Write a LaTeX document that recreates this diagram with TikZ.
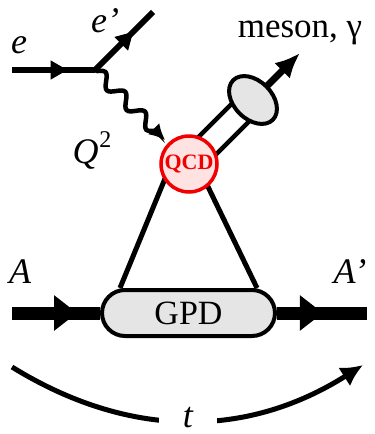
\documentclass[tikz,border=0pt]{standalone}
\usepackage{fontspec}
\setmainfont{Liberation Serif}
\usetikzlibrary{arrows.meta, positioning, shapes.geometric, shapes.misc,
                decorations.markings, decorations.pathmorphing, backgrounds, calc}
\definecolor{qcdred}{RGB}{240,0,0}
\definecolor{qcdfill}{RGB}{255,226,226}
\definecolor{blobgray}{RGB}{229,229,229}
\tikzset{
  lbl/.style     = {font=\fontsize{36}{40}\selectfont\itshape, inner sep=0pt, anchor=base},
  fermion/.style = {line width=6pt, postaction={decorate},
                    decoration={markings, mark=at position #1 with
                                {\arrow{Triangle[length=17pt,width=18pt]}}}},
  hadron/.style  = {line width=13pt, postaction={decorate},
                    decoration={markings, mark=at position #1 with
                                {\arrow{Triangle[length=23pt,width=34pt]}}}},
  photon/.style  = {line width=4.5pt, decorate,
                    decoration={snake, amplitude=6pt, segment length=28pt, post length=14pt},
                    -{Latex[length=16pt,width=16pt]}},
  qcdblob/.style = {circle, draw=qcdred, line width=3.5pt, fill=qcdfill, minimum size=56pt,
                    inner sep=0pt, text=qcdred, font=\fontsize{22}{22}\selectfont\bfseries},
  gpdbox/.style  = {rounded rectangle, draw, line width=4pt, fill=blobgray, minimum width=173pt,
                    minimum height=46pt, inner sep=0pt, font=\fontsize{34}{34}\selectfont},
  mesblob/.style = {ellipse, draw, line width=4pt, fill=blobgray, minimum width=38pt,
                    minimum height=56pt, inner sep=0pt, rotate=45},
}

\begin{document}
\begin{tikzpicture}[x=1pt, y=-1pt]
  \useasboundingbox (0,0) rectangle (375,434);

  % blobs
  \node[qcdblob] (qcd) at (189,164) {QCD};
  \node[gpdbox]  (gpd) at (188.5,313) {GPD};
  \node[mesblob] (blob) at (253,100) {};

  % end points
  \coordinate (eL)   at (12,70);
  \coordinate (vtx)  at (95,70);
  \coordinate (ep)   at (153,12);
  \coordinate (mtip) at (300,53);
  \coordinate (aL)   at (12,313);
  \coordinate (aR)   at (367,313);
  \coordinate (tL)   at (12,367);
  \coordinate (tR)   at (363,365);

  % lepton side
  \draw[fermion=0.67] (eL) -- (vtx);
  \draw[fermion=0.66] (vtx) -- (ep);
  \draw[photon, shorten >=4pt] (vtx) -- (qcd);

  % lines under the blobs
  \begin{scope}[on background layer]
    \draw[line width=4.5pt, double distance=20pt] (qcd.center) -- (blob.center);
    \draw[line width=7pt, -{Latex[length=25pt,width=22pt]}] (blob.center) -- (mtip);
    \draw[line width=5pt] ([xshift=-18pt]qcd.center) -- ([xshift=-68.5pt]gpd.north);
    \draw[line width=5pt] ([xshift=8pt]qcd.center) -- ([xshift=68.5pt]gpd.north);
  \end{scope}

  % hadron line
  \draw[hadron=0.74] (aL) -- (gpd.west);
  \draw[hadron=0.51] (gpd.east) -- (aR);

  % momentum transfer
  \draw[line width=5pt, -{Latex[length=22pt,width=22pt]}] (tL) to[bend right=32]
    node[fill=white, minimum width=58pt, inner sep=0pt, yshift=3pt,
         font=\fontsize{36}{40}\selectfont\itshape] (tlbl) {t} (tR);

  % labels
  \node[lbl] (elbl)  at (19,53)   {e};
  \node[lbl] (eplbl) at (105,32)  {e’};
  \node[lbl] (qlbl)  at (92,163)  {Q\kern1pt\raisebox{16pt}{\fontsize{24}{24}\selectfont\upshape 2}};
  \node[lbl] (albl)  at (20,283)  {A};
  \node[lbl] (aplbl) at (350,283) {A’};
  \node[lbl, font=\fontsize{35}{40}\selectfont] (mlbl) at (300,37) {meson, γ};
\end{tikzpicture}
\end{document}
